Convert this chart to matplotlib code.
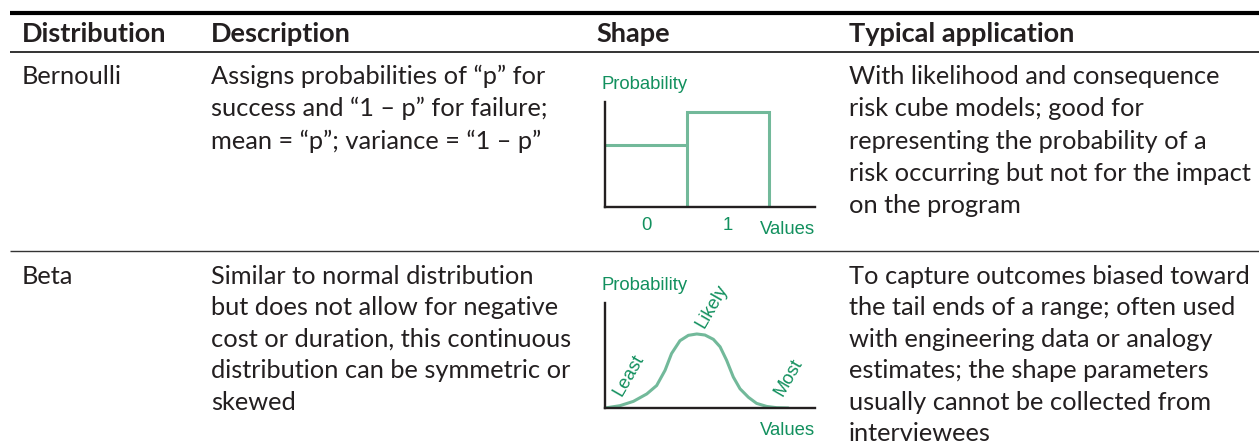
import matplotlib
matplotlib.use('Agg')
import matplotlib.pyplot as plt

# table text
headers = ["Distribution", "Description", "Shape", "Typical application"]
names = ["Bernoulli", "Beta"]
descriptions = [
    ["Assigns probabilities of \u201cp\u201d for",
     "success and \u201c1 \u2013 p\u201d for failure;",
     "mean = \u201cp\u201d; variance = \u201c1 \u2013 p\u201d"],
    ["Similar to normal distribution",
     "but does not allow for negative",
     "cost or duration, this continuous",
     "distribution can be symmetric or",
     "skewed"],
]
applications = [
    ["With likelihood and consequence",
     "risk cube models; good for",
     "representing the probability of a",
     "risk occurring but not for the impact",
     "on the program"],
    ["To capture outcomes biased toward",
     "the tail ends of a range; often used",
     "with engineering data or analogy",
     "estimates; the shape parameters",
     "usually cannot be collected from",
     "interviewees"],
]

# bernoulli sketch: outcome labels and probability heights (% of axis)
bern_outcomes = ["0", "1"]
bern_probs = [59, 90.5]

# beta sketch (% of axis width / height)
beta_x = [0, 7.1, 13.5, 19.9, 24.6, 28.6, 31.7, 35.7, 39.7, 43.7, 47.6,
          51.6, 54.8, 57.9, 61.1, 64.3, 68.3, 72.2, 77.0, 81.7, 87.3]
beta_y = [0, 2.2, 6.3, 13.4, 21.4, 35.9, 51.9, 64.1, 69.2, 70.5, 69.5,
          65.4, 58.3, 45.5, 29.5, 18.3, 10.2, 4.4, 1.5, 0.3, 0]
beta_marks = ["Least", "Likely", "Most"]

W, H = 1259, 448
TXT = '#231f20'
GREEN_TXT = '#12905e'
GREEN_LINE = '#72b99a'
BODY = 'Lato'
SKETCH = 'Liberation Sans'
FS = 18.3
SFS = 13.3

fig = plt.figure(figsize=(W / 100, H / 100), dpi=100)
ax = fig.add_axes([0, 0, 1, 1])
ax.set_xlim(0, W)
ax.set_ylim(H, 0)
ax.axis('off')

# rules
ax.plot([10, W], [13, 13], color='black', lw=3.0, solid_capstyle='butt')
ax.plot([10, W], [52, 52], color='#333333', lw=1.4, solid_capstyle='butt')
ax.plot([10, W], [251, 251], color='#333333', lw=1.0, solid_capstyle='butt')

col_x = [22, 211, 596, 849]
for x, h in zip(col_x, headers):
    ax.text(x, 42, h, fontsize=19.5, fontweight='bold', family=BODY,
            color=TXT, va='baseline', ha='left')

row_y = [84, 284]
steps = [32.3, 31.4]
for r in range(2):
    ax.text(col_x[0], row_y[r], names[r], fontsize=FS, family=BODY,
            color=TXT, va='baseline')
    for i, line in enumerate(descriptions[r]):
        ax.text(col_x[1], row_y[r] + i * steps[r], line, fontsize=FS,
                family=BODY, color=TXT, va='baseline')
    for i, line in enumerate(applications[r]):
        ax.text(col_x[3], row_y[r] + i * steps[r], line, fontsize=FS,
                family=BODY, color=TXT, va='baseline')


def sketch_axes(top, bottom):
    a = fig.add_axes([605 / W, (H - bottom) / H, 210 / W, (bottom - top) / H])
    a.set_xlim(0, 100)
    a.set_ylim(0, 100)
    a.patch.set_alpha(0)
    for s in ['top', 'right']:
        a.spines[s].set_visible(False)
    for s in ['left', 'bottom']:
        a.spines[s].set_linewidth(1.7)
        a.spines[s].set_color(TXT)
        a.spines[s].set_zorder(5)
    a.set_yticks([])
    a.tick_params(axis='x', length=0, colors=GREEN_TXT, labelsize=SFS, pad=7)
    a.set_xticks([])
    a.text(-0.015, 1.17, "Probability", transform=a.transAxes, fontsize=SFS,
           family=SKETCH, color=GREEN_TXT, va='center', ha='left')
    a.text(1.0, -0.21, "Values", transform=a.transAxes, fontsize=SFS,
           family=SKETCH, color=GREEN_TXT, ha='right', va='center')
    return a


# Bernoulli
bax = sketch_axes(102, 207)
bw = 39
centers = [(i + 0.5) * bw for i in range(len(bern_outcomes))]
bax.hlines(bern_probs[0], 0, bw, color=GREEN_LINE, lw=2.2)
bax.bar(centers[1], bern_probs[1], width=bw, fill=False,
        edgecolor=GREEN_LINE, lw=2.2)
bax.set_xticks(centers)
bax.set_xticklabels(bern_outcomes, family=SKETCH)

# Beta
tax = sketch_axes(303, 408)
tax.plot(beta_x, beta_y, color=GREEN_LINE, lw=2.2, solid_capstyle='round',
         solid_joinstyle='round')
mark_pos = [(11.4, 31), (51, 97), (87.5, 29)]
for (mx, my), m in zip(mark_pos, beta_marks):
    tax.text(mx, my, m, rotation=60, fontsize=SFS, family=SKETCH,
             color=GREEN_TXT, ha='center', va='center', clip_on=False,
             rotation_mode='anchor')

fig.savefig('out.png', dpi=100)
